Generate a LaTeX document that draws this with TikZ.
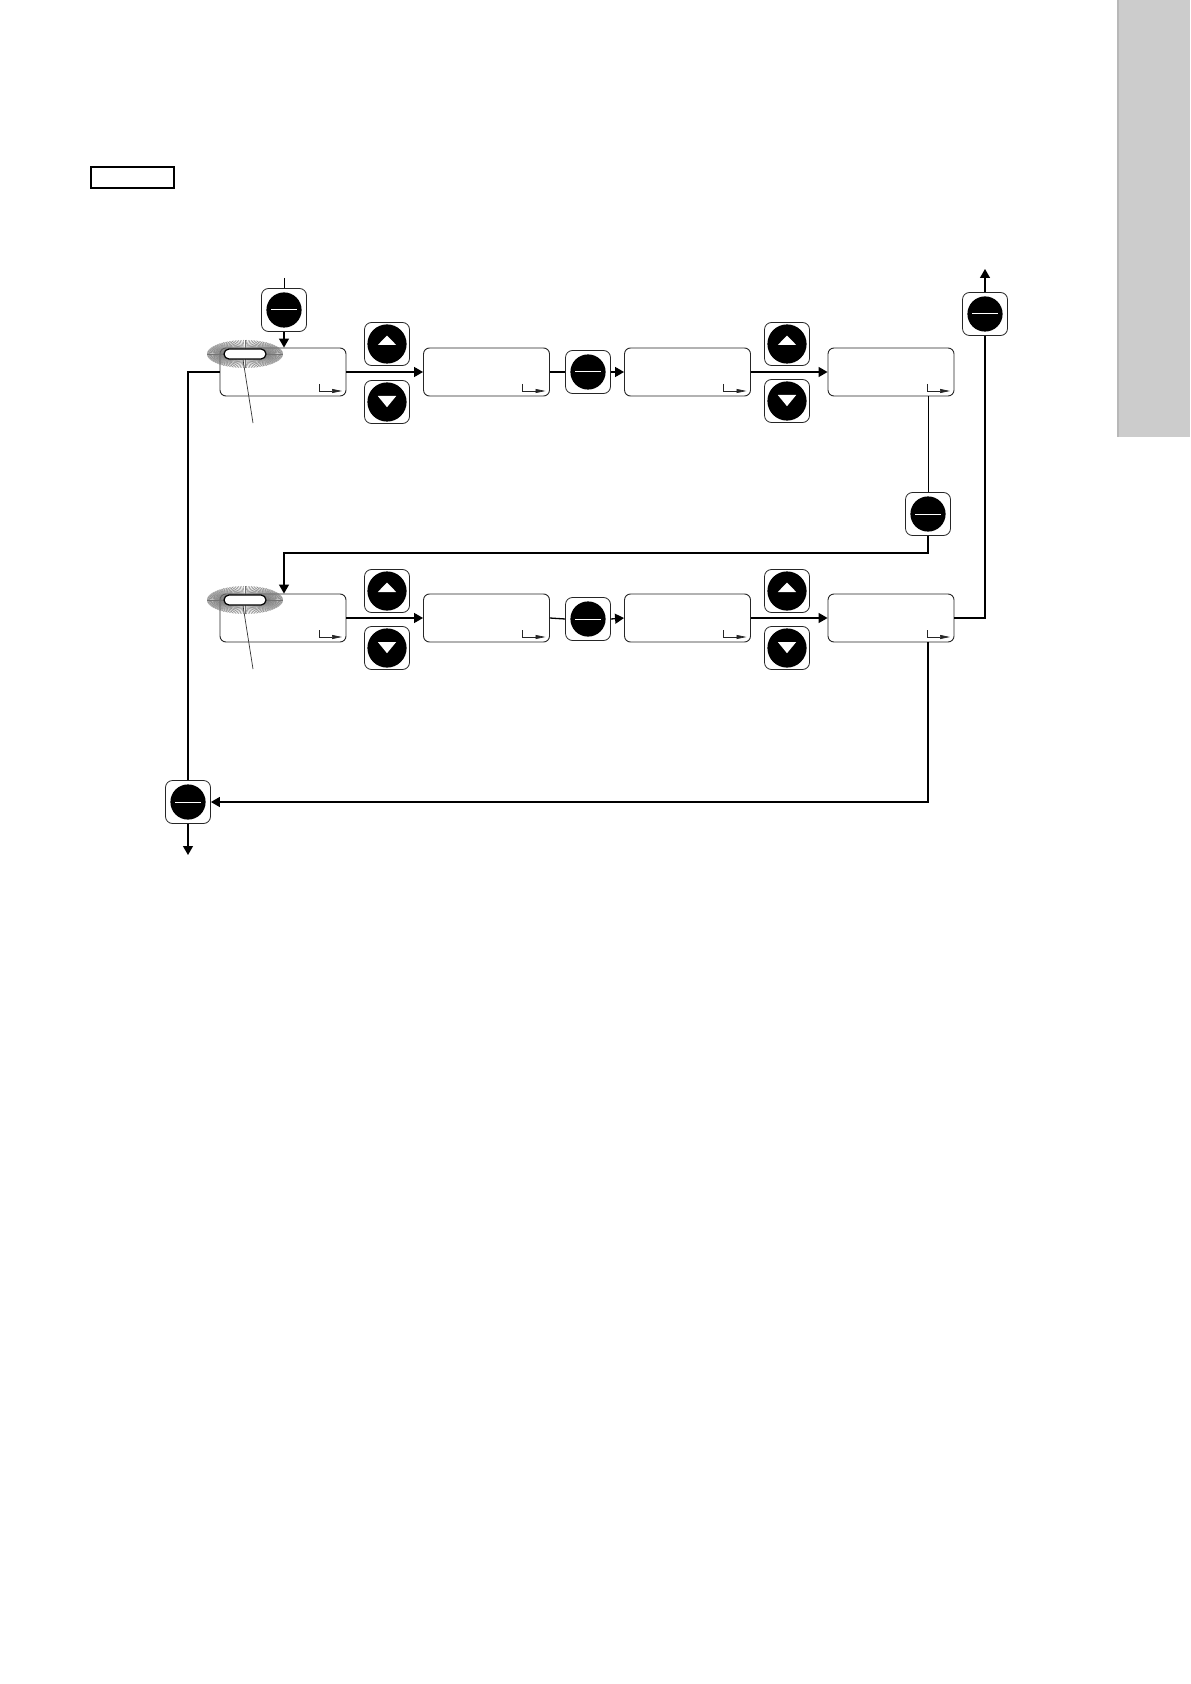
\documentclass[tikz,border=0pt]{standalone}
\usetikzlibrary{arrows.meta}
\begin{document}
\begin{tikzpicture}[x=0.5pt,y=-0.5pt,
  conn/.style={line width=0.65pt},
  thinconn/.style={line width=0.45pt},
  arr/.style={conn,-{Triangle[length=4.5pt,width=5pt]}},
  btn/.style={draw=black!85, line width=0.4pt, rounded corners=3.5pt,
    minimum width=22.5pt, minimum height=21.5pt, inner sep=0pt, fill=white},
  enterbtn/.style={btn, path picture={
    \fill[black] (path picture bounding box.center) circle (8.8pt);
    \draw[white,line width=0.5pt,sharp corners] ([xshift=-6.5pt]path picture bounding box.center) -- ([xshift=6.5pt]path picture bounding box.center);}},
  upbtn/.style={btn, path picture={
    \fill[black] (path picture bounding box.center) circle (9.8pt);
    \fill[white,sharp corners] (path picture bounding box.center) ++(0pt,4.2pt) -- ++(-4.6pt,-4.7pt) -- ++(9.2pt,0pt) -- cycle;}},
  downbtn/.style={btn, path picture={
    \fill[black] (path picture bounding box.center) circle (9.8pt);
    \fill[white,sharp corners] (path picture bounding box.center) ++(0pt,-2.6pt) -- ++(-4.6pt,5.6pt) -- ++(9.2pt,0pt) -- cycle;}},
  screen/.style={draw=black!85, line width=0.45pt, rounded corners=3pt,
    minimum width=63pt, minimum height=24pt, inner sep=0pt, path picture={
    \draw[line width=0.35pt,sharp corners,-{Triangle[length=5pt,width=2pt]}] (path picture bounding box.south east) ++(-13.5pt,6pt) -- ++(0pt,-3.5pt) -- ++(11.5pt,0pt);}},
  pill/.style={draw=black, line width=0.6pt, fill=white, rounded corners=2.5pt,
    minimum width=21pt, minimum height=5pt, inner sep=0pt},
  flashray/.style={black!55, line width=0.2pt},
  leader/.style={black!80, line width=0.35pt},
  tab/.style={draw=black, line width=0.6pt, minimum width=41.5pt, minimum height=10.5pt, inner sep=0pt}
]
\fill[white] (0,0) rectangle (1190,1684);
\useasboundingbox (0,0) rectangle (1190,1684);

% side tab
\fill[black!20] (1117,0) rectangle (1190,437);
\draw[black!28, line width=1pt] (1118,0) -- (1118,437);

% small framed label
\node[tab] (tag) at (132.5,177.5) {};

% row 1 screens
\node[screen] (b11) at (283,372) {};
\node[screen] (b12) at (486.5,372) {};
\node[screen] (b13) at (687.5,372) {};
\node[screen] (b14) at (891,372) {};
% row 2 screens
\node[screen] (b21) at (283,618) {};
\node[screen] (b22) at (486.5,618) {};
\node[screen] (b23) at (687.5,618) {};
\node[screen] (b24) at (891,618) {};

% buttons
\node[enterbtn] (e0) at (284,310) {};
\node[upbtn] (u11) at (387,344) {};
\node[downbtn] (d11) at (387,402) {};
\node[enterbtn] (e12) at (588,372) {};
\node[upbtn] (u13) at (787,344) {};
\node[downbtn] (d13) at (787,401) {};
\node[enterbtn] (ex) at (985,314) {};
\node[enterbtn] (em) at (928,514) {};
\node[upbtn] (u21) at (387,591) {};
\node[downbtn] (d21) at (387,648) {};
\node[enterbtn] (e22) at (588,619) {};
\node[upbtn] (u23) at (787,591) {};
\node[downbtn] (d23) at (787,648) {};
\node[enterbtn] (eb) at (188,802) {};

% free ends
\coordinate (topin) at (284,278);
\coordinate (t2) at (284,553);
\coordinate (exout) at (985,269);
\coordinate (out) at (188,855);

% connectors row 1
\draw[thinconn] (topin) -- (e0.north);
\draw[arr] (e0.south) -- (e0.south |- b11.north);
\draw[conn] (b11.west) -- (b11.west -| eb) -- (eb.north);
\draw[arr] (b11.east) -- (b12.west);
\draw[conn] (b12.east) -- (e12.west);
\draw[arr] (e12.east) -- (b13.west);
\draw[arr] (b13.east) -- (b14.west);
\draw[thinconn] (b14.south -| em) -- (em.north);
\draw[arr] (em.south) |- (t2) -- (t2 |- b21.north);

% connectors row 2
\draw[arr] (b21.east) -- (b22.west);
\draw[conn] (b22.east) -- (e22.west);
\draw[arr] (e22.east) -- (b23.west);
\draw[arr] (b23.east) -- (b24.west);
\draw[conn] (b24.east) -| (ex.south);
\draw[arr] (ex.north) -- (exout);
\draw[arr] (b24.south -| em) |- (eb.east);
\draw[arr] (eb.south) -- (out);

% flashing markers
\foreach \fy/\n in {354/1,600/2} {
  \coordinate (fl\n) at (245,\fy);
  \foreach \a in {0,2.5,...,357.5}
    \draw[flashray] ([shift={(\a:19 and 5)}]fl\n) -- ([shift={(\a:38 and 14)}]fl\n);
  \node[pill] (pl\n) at (fl\n) {};
  \coordinate (lt\n) at (253,\fy+69);
  \draw[leader] ([xshift=-1pt]pl\n.south) -- (lt\n);
}
\end{tikzpicture}
\end{document}
